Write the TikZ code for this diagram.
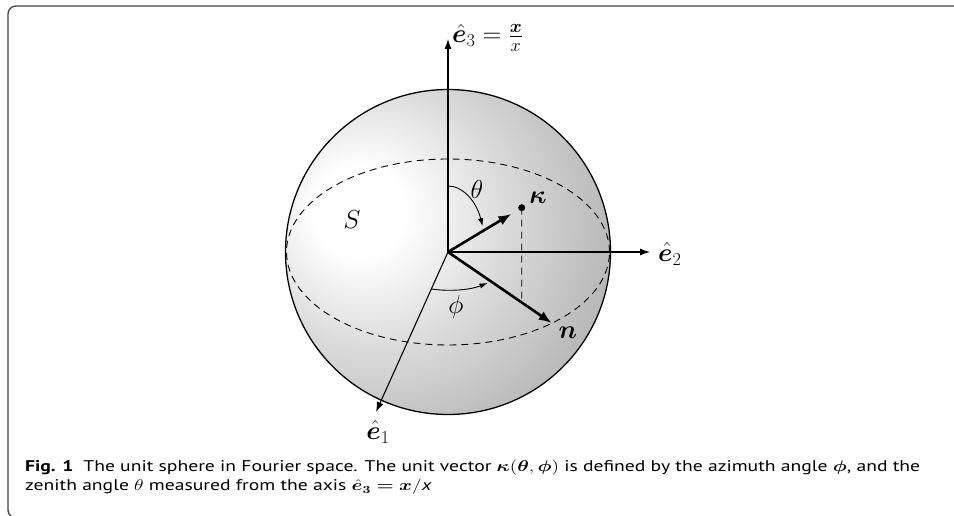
\RequirePackage{fix-cm}
\documentclass[tikz,border=0pt]{standalone}
\usepackage{fontspec}
\usepackage{amsmath}
\usepackage{bm}
\usetikzlibrary{arrows.meta}
\newfontfamily\capfont{PT Sans}
\pgfdeclareradialshading{sphereshade}{\pgfpoint{-14.8bp}{6.8bp}}{%
 color(0bp)=(white); color(7bp)=(white); color(20bp)=(black!14); color(36bp)=(black!29);
 color(46bp)=(black!35); color(59bp)=(black!46); color(66bp)=(black!52); color(90bp)=(black!55)}
\newsavebox\capboxA
\newsavebox\capboxB
\newcommand\capone{\textbf{Fig. 1}\enspace The unit sphere in Fourier space. The unit vector $\bm{\kappa}(\bm\theta,\bm\phi)$ is defined by the azimuth angle $\bm\phi$, and the}
\newcommand\captwo{zenith angle $\theta$ measured from the axis $\bm{\hat e_3=x}/$\textit{x}}
\begin{document}
\sbox\capboxA{\capfont\fontsize{15.5}{19}\selectfont\capone}%
\sbox\capboxB{\capfont\fontsize{15.5}{19}\selectfont\captwo}%
\pgfmathsetmacro\capscale{895/\the\wd\capboxA}%
\begin{tikzpicture}[x=1pt,y=1pt,
 lbl/.style={font=\fontsize{26}{30}\selectfont, inner sep=1pt},
 axis/.style={line width=1.1pt, -{Latex[length=10pt,width=7pt]}},
 vec/.style={line width=2.6pt, -{Latex[length=13pt,width=10pt]}},
 angarc/.style={line width=0.9pt, -{Latex[length=8pt,width=5.5pt]}},
 guide/.style={line width=0.9pt, dash pattern=on 7pt off 5pt},
 captext/.style={text=black!85, inner sep=0pt, anchor=base west}]
\useasboundingbox (0,0) rectangle (954,516);
\clip (0,0) rectangle (954,516);
\draw[line width=1.3pt, black!75, rounded corners=8pt] (8,-2) rectangle (1010,510);

\coordinate (O) at (448,264);
\shade[shading=sphereshade] (O) circle[radius=162.5];
\draw[line width=1.3pt] (O) circle[radius=162.5];
\draw[guide] (O) ellipse[x radius=161.5, y radius=93];

\coordinate (E3) at (448,477);
\coordinate (E2) at (650,264);
\coordinate (E1) at (376,104);
\coordinate (N) at (551.7,193);
\coordinate (Kc) at (521.7,308.3);
\coordinate (Kb) at (521.7,0);
\coordinate (F) at (intersection of O--N and Kc--Kb);

\draw[guide] (Kc) -- (F);
\draw[axis] (O) -- (E3);
\draw[axis] (O) -- (E2);
\draw[axis] (O) -- (E1);
\draw[vec, shorten >=12pt] (O) -- (Kc);
\draw[vec] (O) -- (N);
\node[circle, fill, inner sep=0pt, minimum size=7pt] (K) at (Kc) {};
\draw[angarc] ([shift={(0,66)}]O) arc[start angle=90, end angle=23, x radius=37.5, y radius=66];
\draw[angarc] ([shift={(255.4:67.6 and 38.2)}]O) arc[start angle=255.4, end angle=305.8, x radius=67.6, y radius=38.2];

\node[lbl] (theta) at (477,327) {$\theta$};
\node[lbl] (phi) at (456,209) {$\phi$};
\node[lbl] (S) at (352,296) {$S$};
\node[lbl] (kap) at (538,318) {$\bm{\kappa}$};
\node[lbl] (nl) at (568,183) {$\bm{n}$};
\node[lbl, anchor=west] (e3l) at (451,478) {$\hat{\bm e}_3=\frac{\bm x}{x}$};
\node[lbl, anchor=west] (e2l) at (657,262) {$\hat{\bm e}_2$};
\node[lbl] (e1l) at (378,84) {$\hat{\bm e}_1$};

\node[captext] (cap1) at (25,44) {\scalebox{\capscale}[1]{\usebox\capboxA}};
\node[captext] (cap2) at (25,25) {\scalebox{\capscale}[1]{\usebox\capboxB}};
\end{tikzpicture}
\end{document}
